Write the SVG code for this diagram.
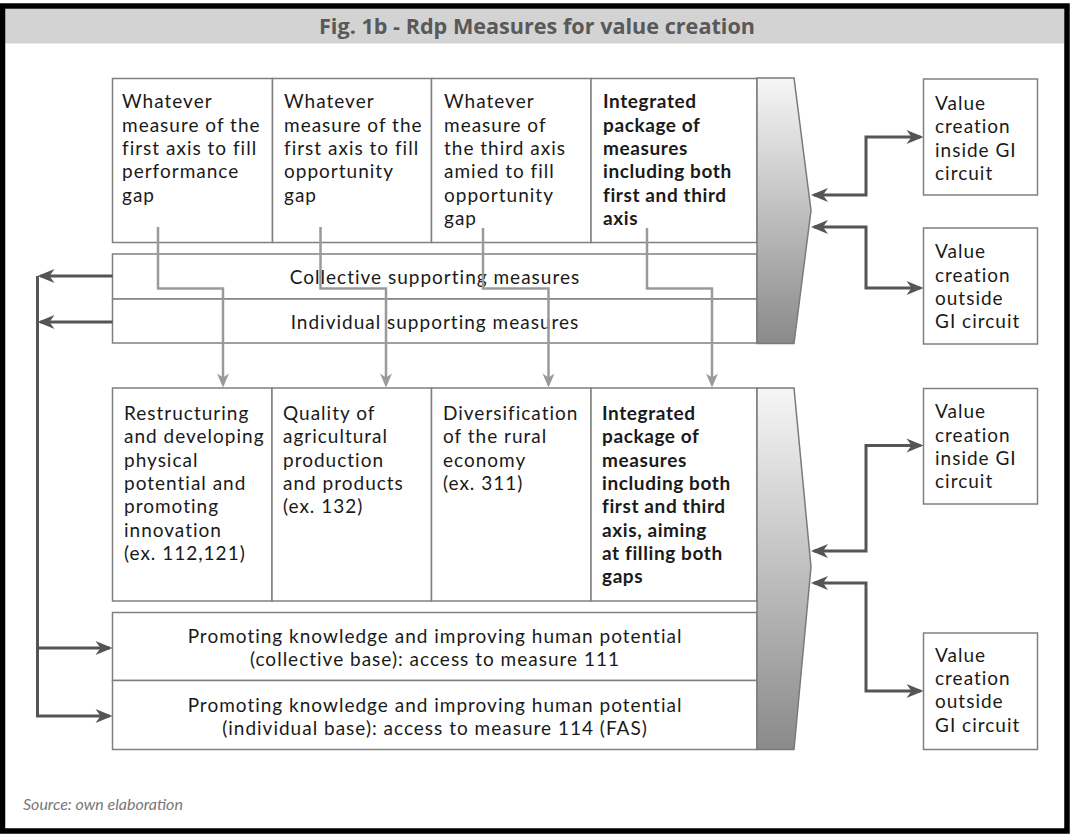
<svg xmlns="http://www.w3.org/2000/svg" width="1070" height="834" viewBox="0 0 1070 834">
<style>
.t{font-family:Lato,"Open Sans","Liberation Sans",sans-serif;font-size:19px;letter-spacing:1px;fill:#1a1a1a}
.b{font-weight:bold;letter-spacing:0.6px}
.c{text-anchor:middle}
.box{fill:#fff;stroke:#808080;stroke-width:1.5}
.grad{fill:url(#g);stroke:#7a7a7a;stroke-width:1.5}
.gc{fill:none;stroke:#9a9a9a;stroke-width:2.5;marker-end:url(#ga)}
.dc{fill:none;stroke:#555;stroke-width:3}
.dc1{marker-end:url(#da)}
.dc2{marker-start:url(#da);marker-end:url(#da)}
</style>
<defs>
<linearGradient id="g" x1="0" y1="0" x2="0" y2="1">
<stop offset="0" stop-color="#f6f6f6"/>
<stop offset="1" stop-color="#8a8a8a"/>
</linearGradient>
<marker id="da" viewBox="-18 -8 20 16" refX="-3" refY="0" markerWidth="20" markerHeight="16" markerUnits="userSpaceOnUse" orient="auto-start-reverse">
<path d="M0,0 L-17,-7 L-12,0 L-17,7 Z" fill="#555"/>
</marker>
<marker id="ga" viewBox="-15 -7 17 14" refX="-3" refY="0" markerWidth="17" markerHeight="14" markerUnits="userSpaceOnUse" orient="auto">
<path d="M0,0 L-14,-6 L-10,0 L-14,6 Z" fill="#9a9a9a"/>
</marker>
</defs>
<rect x="0" y="0" width="1070" height="834" fill="#fff"/>
<rect x="5" y="9" width="1059" height="34.5" fill="#d3d3d3"/>
<rect x="2.5" y="6" width="1064.5" height="825" fill="none" stroke="#000" stroke-width="5.5"/>
<text x="537" y="33.5" style="font-family:'Open Sans','Liberation Sans',sans-serif;font-size:21px;font-weight:bold;fill:#595959;text-anchor:middle" textLength="436" lengthAdjust="spacingAndGlyphs">Fig. 1b - Rdp Measures for value creation</text>

<g id="top-row">
<g id="top1"><rect class="box" x="112.5" y="78.5" width="160" height="164"/>
<text class="t"><tspan x="122" y="108.3">Whatever</tspan><tspan x="122" dy="23.3">measure of the</tspan><tspan x="122" dy="23.3">first axis to fill</tspan><tspan x="122" dy="23.3">performance</tspan><tspan x="122" dy="23.3">gap</tspan></text></g>
<g id="top2"><rect class="box" x="272.5" y="78.5" width="159" height="164"/>
<text class="t"><tspan x="284" y="108.3">Whatever</tspan><tspan x="284" dy="23.3">measure of the</tspan><tspan x="284" dy="23.3">first axis to fill</tspan><tspan x="284" dy="23.3">opportunity</tspan><tspan x="284" dy="23.3">gap</tspan></text></g>
<g id="top3"><rect class="box" x="431.5" y="78.5" width="159.5" height="164"/>
<text class="t"><tspan x="444" y="108.3">Whatever</tspan><tspan x="444" dy="23.3">measure of</tspan><tspan x="444" dy="23.3">the third axis</tspan><tspan x="444" dy="23.3">amied to fill</tspan><tspan x="444" dy="23.3">opportunity</tspan><tspan x="444" dy="23.3">gap</tspan></text></g>
<g id="top4"><rect class="box" x="591" y="78.5" width="166" height="164"/>
<text class="t b"><tspan x="603" y="108.3">Integrated</tspan><tspan x="603" dy="23.3">package of</tspan><tspan x="603" dy="23.3">measures</tspan><tspan x="603" dy="23.3">including both</tspan><tspan x="603" dy="23.3">first and third</tspan><tspan x="603" dy="23.3">axis</tspan></text></g>
</g>
<g id="collective"><rect class="box" x="112.5" y="254" width="644.5" height="45"/>
<text class="t c" x="435" y="283.5">Collective supporting measures</text></g>
<g id="individual"><rect class="box" x="112.5" y="299" width="644.5" height="44"/>
<text class="t c" x="435" y="328.5">Individual supporting measures</text></g>
<g id="shape-top"><path class="grad" d="M757,78 H794 L811,210.5 L794,343.5 H757 Z"/></g>

<g id="low-row">
<g id="low1"><rect class="box" x="112.5" y="388" width="159.5" height="213"/>
<text class="t"><tspan x="124" y="420">Restructuring</tspan><tspan x="124" dy="23.3">and developing</tspan><tspan x="124" dy="23.3">physical</tspan><tspan x="124" dy="23.3">potential and</tspan><tspan x="124" dy="23.3">promoting</tspan><tspan x="124" dy="23.3">innovation</tspan><tspan x="124" dy="23.3">(ex. 112,121)</tspan></text></g>
<g id="low2"><rect class="box" x="272" y="388" width="159.5" height="213"/>
<text class="t"><tspan x="283" y="420">Quality of</tspan><tspan x="283" dy="23.3">agricultural</tspan><tspan x="283" dy="23.3">production</tspan><tspan x="283" dy="23.3">and products</tspan><tspan x="283" dy="23.3">(ex. 132)</tspan></text></g>
<g id="low3"><rect class="box" x="431.5" y="388" width="159.5" height="213"/>
<text class="t"><tspan x="443" y="420">Diversification</tspan><tspan x="443" dy="23.3">of the rural</tspan><tspan x="443" dy="23.3">economy</tspan><tspan x="443" dy="23.3">(ex. 311)</tspan></text></g>
<g id="low4"><rect class="box" x="591" y="388" width="166" height="213"/>
<text class="t b"><tspan x="602" y="420">Integrated</tspan><tspan x="602" dy="23.3">package of</tspan><tspan x="602" dy="23.3">measures</tspan><tspan x="602" dy="23.3">including both</tspan><tspan x="602" dy="23.3">first and third</tspan><tspan x="602" dy="23.3">axis, aiming</tspan><tspan x="602" dy="23.3">at filling both</tspan><tspan x="602" dy="23.3">gaps</tspan></text></g>
</g>
<g id="prom-coll"><rect class="box" x="112.5" y="612.5" width="644.5" height="68"/>
<text class="t c"><tspan x="435" y="643.3">Promoting knowledge and improving human potential</tspan><tspan x="435" dy="23">(collective base): access to measure 111</tspan></text></g>
<g id="prom-ind"><rect class="box" x="112.5" y="680.5" width="644.5" height="69"/>
<text class="t c"><tspan x="435" y="711.7">Promoting knowledge and improving human potential</tspan><tspan x="435" dy="23">(individual base): access to measure 114 (FAS)</tspan></text></g>
<g id="shape-low"><path class="grad" d="M757,388 H794 L811,567 L794,749.5 H757 Z"/></g>

<g id="vc1"><rect class="box" x="923.5" y="79" width="114" height="116"/>
<text class="t"><tspan x="935" y="110">Value</tspan><tspan x="935" dy="23.3">creation</tspan><tspan x="935" dy="23.3">inside GI</tspan><tspan x="935" dy="23.3">circuit</tspan></text></g>
<g id="vc2"><rect class="box" x="923.5" y="228" width="114" height="116"/>
<text class="t"><tspan x="935" y="258.3">Value</tspan><tspan x="935" dy="23.3">creation</tspan><tspan x="935" dy="23.3">outside</tspan><tspan x="935" dy="23.3">GI circuit</tspan></text></g>
<g id="vc3"><rect class="box" x="923.5" y="388.5" width="114" height="115.5"/>
<text class="t"><tspan x="935" y="418.3">Value</tspan><tspan x="935" dy="23.3">creation</tspan><tspan x="935" dy="23.3">inside GI</tspan><tspan x="935" dy="23.3">circuit</tspan></text></g>
<g id="vc4"><rect class="box" x="923.5" y="633" width="114" height="116.5"/>
<text class="t"><tspan x="935" y="661.7">Value</tspan><tspan x="935" dy="23.3">creation</tspan><tspan x="935" dy="23.3">outside</tspan><tspan x="935" dy="23.3">GI circuit</tspan></text></g>

<g id="connectors">
<path class="gc" d="M158,227 V288.5 H223 V384.5"/>
<path class="gc" d="M320.5,227 V288.5 H386 V384.5"/>
<path class="gc" d="M483,228 V288.5 H548.5 V384.5"/>
<path class="gc" d="M647,228 V288.5 H712 V384.5"/>
<path class="dc dc1" d="M112.5,276 H40.5"/>
<path class="dc dc1" d="M112.5,322 H40.5"/>
<path class="dc" d="M37.5,276 V716"/>
<path class="dc dc1" d="M36,648 H109.5"/>
<path class="dc dc1" d="M36,716 H109.5"/>
<path class="dc dc2" d="M814,195 H866 V137 H920.5"/>
<path class="dc dc2" d="M814,227 H866 V288 H920.5"/>
<path class="dc dc2" d="M814,551 H866 V445.5 H920.5"/>
<path class="dc dc2" d="M814,583 H866 V691 H920.5"/>
</g>
<text x="23" y="809.5" style="font-family:Lato,'Open Sans',sans-serif;font-size:16px;font-style:italic;fill:#777">Source: own elaboration</text>
</svg>
